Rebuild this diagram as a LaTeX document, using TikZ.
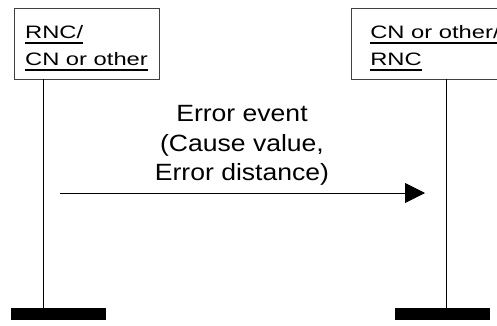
\documentclass[tikz,border=0pt]{standalone}
\usepackage{fontspec}
\setmainfont{Liberation Sans}
\newfontfamily\entityfont{Liberation Sans}[FakeStretch=1.32]
\newfontfamily\msgfont{Liberation Sans}[FakeStretch=1.13]
\usetikzlibrary{arrows.meta}
\newlength{\ulwidth}
\newcommand{\ulabel}[1]{\leavevmode\settowidth{\ulwidth}{#1}\rlap{\rule[-5.7pt]{\ulwidth}{2pt}}#1}
\begin{document}
\begin{tikzpicture}[x=1pt,y=-1pt,inner sep=0pt,outer sep=0pt,line width=0.8pt,
entity/.style={draw=black!75,rectangle,minimum height=71pt,align=left,font=\entityfont\fontsize{18}{26.7}\selectfont},
endbar/.style={fill=black,rectangle,minimum width=95pt,minimum height=12pt},
msg/.style={-{Triangle[length=20pt,width=20pt]}}]
\useasboundingbox (0,0) rectangle (497,325);
\clip (0,0) rectangle (497,325);
\draw (86.5,43.5) node[entity,minimum width=145pt] (rnc) {\rule{0pt}{22pt}\ulabel{RNC/}\\\ulabel{CN or other}};
\draw (435,43.5) node[entity,minimum width=168pt] (cn) {\rule{0pt}{22pt}\ulabel{CN or other/}\\\ulabel{RNC}};
\draw (58.5,314) node[endbar] (rncbar) {};
\draw (442.5,314) node[endbar] (cnbar) {};
\draw ([xshift=-43.5pt]rnc.south) -- ([xshift=-15.5pt]rncbar.north);
\draw ([xshift=11pt]cn.south) -- ([xshift=3.5pt]cnbar.north);
\coordinate (src) at (60,193);
\coordinate (dst) at (425,193);
\draw[msg] (src) -- (dst);
\draw (242,185.4) node[anchor=south,align=center,font=\msgfont\fontsize{23.5}{29.4}\selectfont] (evt) {Error event\\(Cause value,\\Error distance)};
\end{tikzpicture}
\end{document}
